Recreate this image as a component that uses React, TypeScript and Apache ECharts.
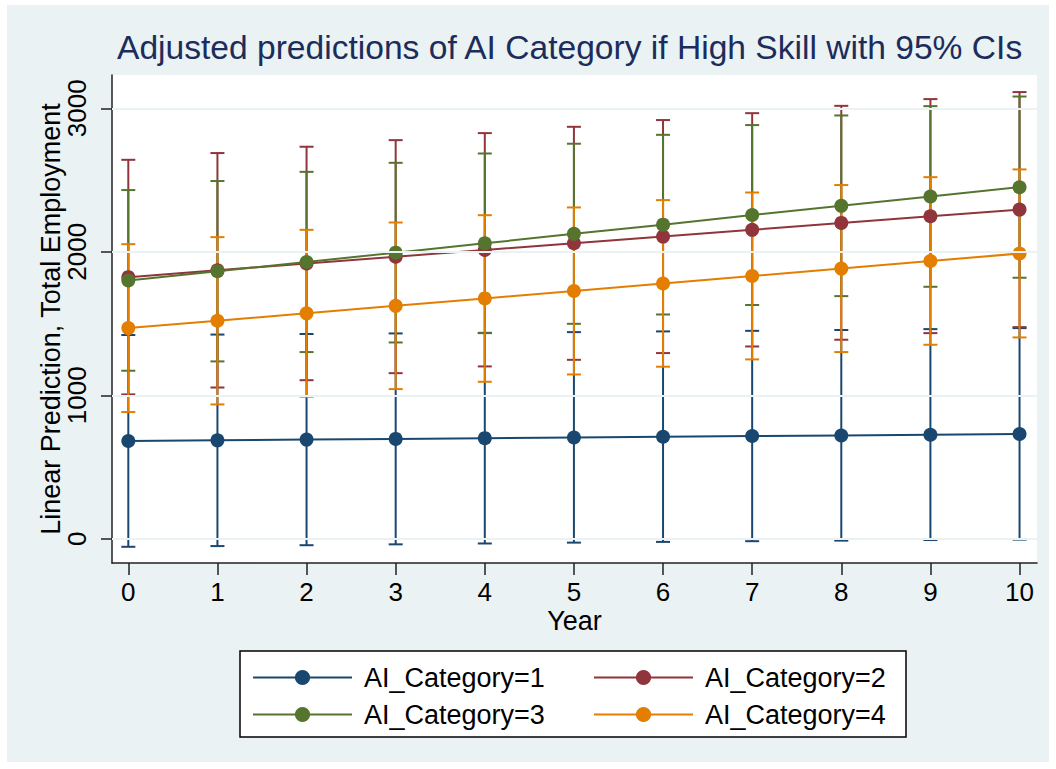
import React, { useEffect, useRef } from "react";
import * as echarts from "echarts";

const years = [0, 1, 2, 3, 4, 5, 6, 7, 8, 9, 10];
const yTicks = [0, 1000, 2000, 3000];

const cat1 = [681, 686, 691, 696, 701, 706, 711, 716, 720, 725, 730];
const cat1Lo = [-56, -51, -45, -39, -33, -27, -22, -17, -13, -9, -6];
const cat1Hi = [1420, 1423, 1427, 1431, 1435, 1440, 1445, 1449, 1455, 1461, 1468];

const cat2 = [1823, 1871, 1918, 1966, 2013, 2059, 2106, 2153, 2201, 2248, 2294];
const cat2Lo = [1006, 1054, 1105, 1154, 1201, 1247, 1294, 1340, 1387, 1433, 1475];
const cat2Hi = [2641, 2688, 2732, 2778, 2827, 2871, 2918, 2966, 3017, 3064, 3113];

const cat3 = [1800, 1864, 1929, 1994, 2059, 2125, 2189, 2256, 2320, 2385, 2450];
const cat3Lo = [1171, 1236, 1301, 1368, 1433, 1498, 1563, 1629, 1691, 1756, 1819];
const cat3Hi = [2430, 2493, 2557, 2620, 2685, 2753, 2815, 2883, 2950, 3015, 3082];

const cat4 = [1468, 1519, 1571, 1623, 1675, 1727, 1779, 1831, 1883, 1936, 1988];
const cat4Lo = [883, 936, 990, 1043, 1094, 1145, 1199, 1250, 1301, 1352, 1403];
const cat4Hi = [2053, 2102, 2153, 2204, 2255, 2309, 2360, 2413, 2465, 2520, 2574];

const names = ["AI_Category=1", "AI_Category=2", "AI_Category=3", "AI_Category=4"];
const colors = ["#1a476f", "#90353b", "#55752f", "#e37e00"];
const means = [cat1, cat2, cat3, cat4];
const lows = [cat1Lo, cat2Lo, cat3Lo, cat4Lo];
const highs = [cat1Hi, cat2Hi, cat3Hi, cat4Hi];

const FONT = "'Liberation Sans', Arial, Helvetica, sans-serif";
const BG = "#eaf2f3";

export default function App() {
  const ref = useRef<HTMLDivElement>(null);
  useEffect(() => {
    if (!ref.current) return;
    const chart = echarts.init(ref.current, undefined, { renderer: "svg" });

    const ciSeries = means.map((_, k) => ({
      type: "custom",
      name: "ci" + k,
      z: 2,
      data: years.map((x, i) => [x, lows[k][i], highs[k][i]]),
      encode: { x: 0, y: [1, 2] },
      renderItem: (params: any, api: any) => {
        const x = api.value(0);
        const lo = api.coord([x, api.value(1)]);
        const hi = api.coord([x, api.value(2)]);
        const w = 7;
        const style = { stroke: colors[k], lineWidth: 2 };
        return {
          type: "group",
          children: [
            { type: "line", shape: { x1: lo[0], y1: lo[1], x2: hi[0], y2: hi[1] }, style },
            { type: "line", shape: { x1: lo[0] - w, y1: lo[1], x2: lo[0] + w, y2: lo[1] }, style },
            { type: "line", shape: { x1: hi[0] - w, y1: hi[1], x2: hi[0] + w, y2: hi[1] }, style },
          ],
        };
      },
    }));

    const lineSeries = means.map((m, k) => ({
      type: "line",
      name: names[k],
      z: 3,
      data: years.map((x, i) => [x, m[i]]),
      symbol: "circle",
      symbolSize: 14,
      showSymbol: true,
      lineStyle: { color: colors[k], width: 2 },
      itemStyle: { color: colors[k] },
    }));

    const legendPos = [
      [252, 664],
      [593, 664],
      [252, 701],
      [593, 701],
    ];

    chart.setOption({
      animation: false,
      backgroundColor: "#ffffff",
      textStyle: { fontFamily: FONT },
      title: {
        text: "Adjusted predictions of AI Category if High Skill with 95% CIs",
        left: 117,
        top: 30,
        padding: 0,
        textStyle: { fontFamily: FONT, fontSize: 33.6, fontWeight: "normal", color: "#1c2c5b" },
      },
      graphic: [
        { type: "rect", z: -10, shape: { x: 7, y: 5, width: 1042, height: 757 }, style: { fill: BG } },
        {
          type: "rect",
          z: 0,
          shape: { x: 240, y: 651, width: 666, height: 86 },
          style: { fill: "#ffffff", stroke: "#000000", lineWidth: 1.5 },
        },
      ],
      legend: names.map((n, k) => ({
        data: [n],
        left: legendPos[k][0],
        top: legendPos[k][1],
        padding: 0,
        itemWidth: 99,
        itemHeight: 19,
        selectedMode: false,
        textStyle: { fontFamily: FONT, fontSize: 27, color: "#000", padding: [0, 0, 0, 7] },
      })),
      grid: {
        left: 112,
        top: 75,
        width: 925,
        height: 488,
        show: true,
        backgroundColor: "#ffffff",
        borderWidth: 0,
        containLabel: false,
      },
      xAxis: {
        type: "value",
        min: -0.183,
        max: 10.196,
        name: "Year",
        nameLocation: "middle",
        nameGap: 44,
        nameMoveOverlap: false,
        nameTextStyle: { fontFamily: FONT, fontSize: 27, color: "#000" },
        axisLine: { show: true, onZero: false, lineStyle: { color: "#222", width: 1.5 } },
        axisTick: { show: true, customValues: years, length: 12, lineStyle: { color: "#222", width: 1.5 } },
        axisLabel: {
          customValues: years,
          fontSize: 26,
          color: "#000",
          margin: 16,
          fontFamily: FONT,
          formatter: (v: number) => String(v),
        },
        splitLine: { show: false },
      },
      yAxis: {
        type: "value",
        min: -169,
        max: 3232,
        name: "Linear Prediction, Total Employment",
        nameLocation: "middle",
        nameGap: 48,
        nameMoveOverlap: false,
        nameTextStyle: { fontFamily: FONT, fontSize: 27, color: "#000" },
        axisLine: { show: true, onZero: false, lineStyle: { color: "#222", width: 1.5 } },
        axisTick: { show: true, customValues: yTicks, length: 11, lineStyle: { color: "#222", width: 1.5 } },
        axisLabel: {
          customValues: yTicks,
          fontSize: 26,
          color: "#000",
          rotate: 90,
          margin: 22,
          fontFamily: FONT,
          formatter: (v: number) => String(v),
        },
        splitLine: { show: false },
      },
      series: [
        {
          type: "line",
          name: "gridlines",
          data: [],
          z: 1,
          silent: true,
          markLine: {
            silent: true,
            symbol: "none",
            label: { show: false },
            lineStyle: { color: BG, width: 2, type: "solid" },
            data: yTicks.map((v) => ({ yAxis: v })),
          },
        },
        ...ciSeries,
        ...lineSeries,
      ],
    });
    return () => chart.dispose();
  }, []);
  return (
    <div
      ref={ref}
      style={{ position: "absolute", left: 0, top: 0, width: 1056, height: 769 }}
    />
  );
}
